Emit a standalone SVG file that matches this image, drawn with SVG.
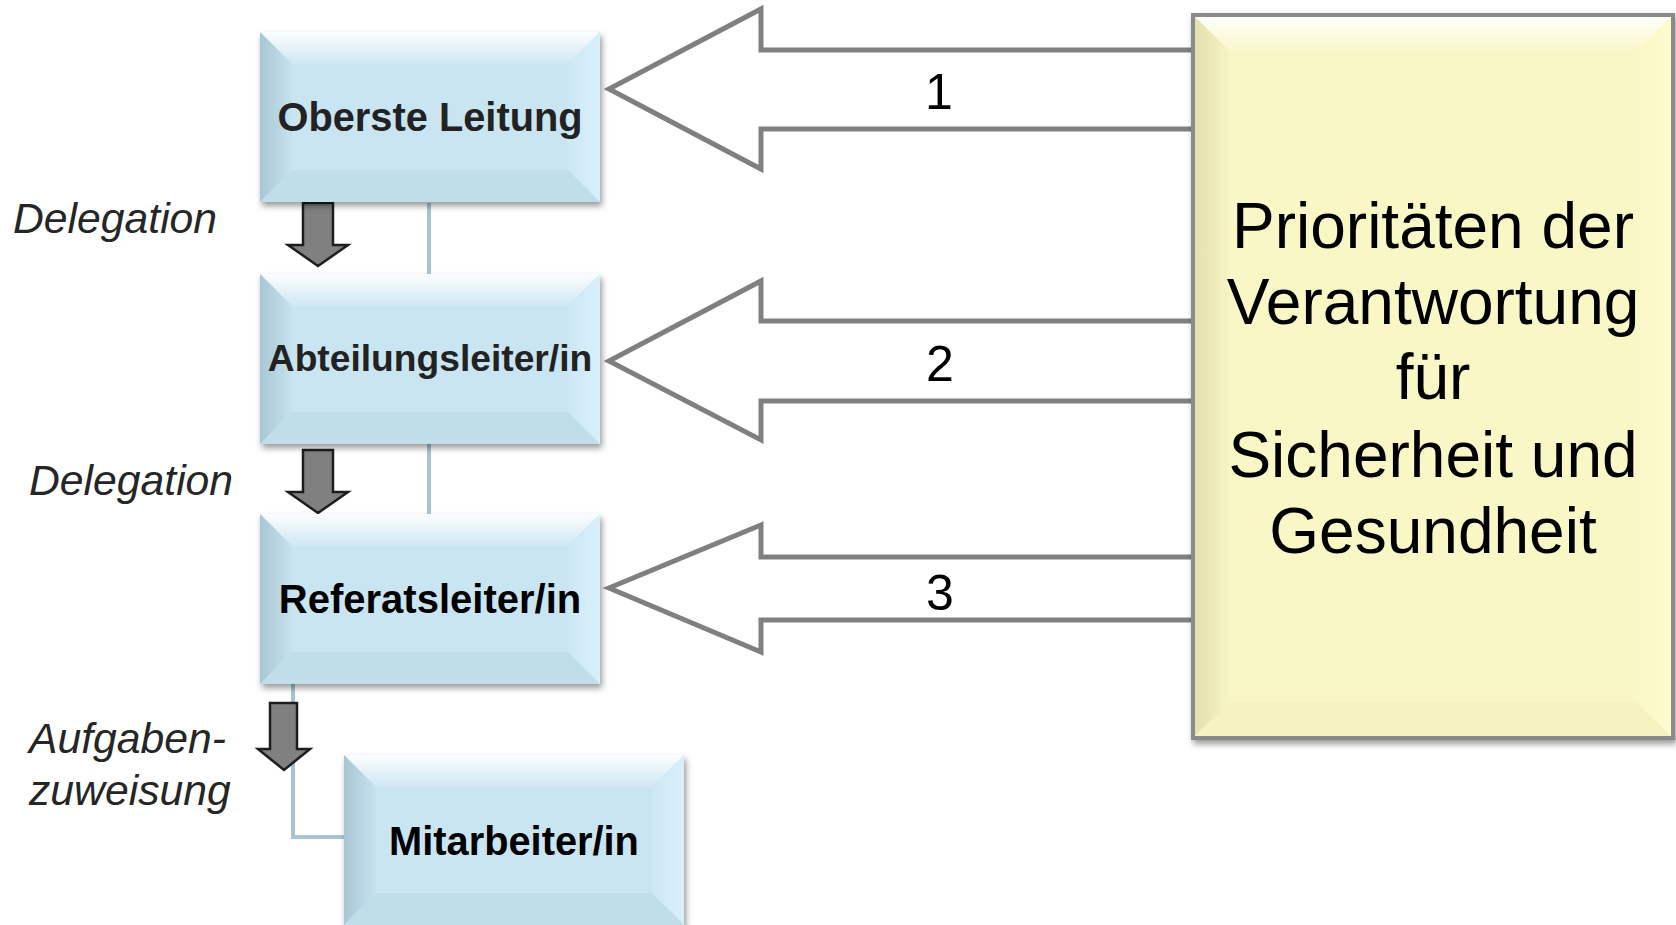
<svg xmlns="http://www.w3.org/2000/svg" width="1676" height="925" viewBox="0 0 1676 925">
<defs>
  <style>
    .base{fill:#c9e5f2;}
    .lbl{font-family:"Liberation Sans",Arial,sans-serif;font-weight:bold;text-anchor:middle;fill:#222;}
    .ital{font-family:"Liberation Sans",Arial,sans-serif;font-style:italic;font-size:42.7px;fill:#262626;}
    .num{font-family:"Liberation Sans",Arial,sans-serif;font-size:50px;text-anchor:middle;fill:#000;}
    .big{fill:#fff;stroke:#808080;stroke-width:5;stroke-linejoin:miter;}
    .down{fill:#808080;stroke:#1e1e1e;stroke-width:2.5;stroke-linejoin:miter;}
    .conn{fill:none;stroke:#a8c4d4;stroke-width:4;}
    .ytxt{font-family:"Liberation Sans",Arial,sans-serif;font-size:64px;text-anchor:middle;fill:#000;}
  </style>
  <filter id="sh" x="-10%" y="-10%" width="125%" height="125%">
    <feDropShadow dx="2" dy="4" stdDeviation="3" flood-color="#000" flood-opacity="0.4"/>
  </filter>
  <linearGradient id="bTop" x1="0" y1="0" x2="0" y2="1">
    <stop offset="0" stop-color="#ffffff" stop-opacity="0.95"/>
    <stop offset="1" stop-color="#ffffff" stop-opacity="0.1"/>
  </linearGradient>
  <linearGradient id="bLeft" x1="0" y1="0" x2="1" y2="0">
    <stop offset="0" stop-color="#a8c6d4"/>
    <stop offset="1" stop-color="#c6e2ee"/>
  </linearGradient>
  <linearGradient id="bRight" x1="0" y1="0" x2="1" y2="0">
    <stop offset="0" stop-color="#cce8f4"/>
    <stop offset="1" stop-color="#d9f0fa"/>
  </linearGradient>
  <linearGradient id="yTop" x1="0" y1="0" x2="0" y2="1">
    <stop offset="0" stop-color="#ffffff" stop-opacity="0.95"/>
    <stop offset="1" stop-color="#ffffff" stop-opacity="0.1"/>
  </linearGradient>
  <linearGradient id="yLeft" x1="0" y1="0" x2="1" y2="0">
    <stop offset="0" stop-color="#e4e0ae"/>
    <stop offset="1" stop-color="#f7f5c6"/>
  </linearGradient>
  <linearGradient id="yRight" x1="0" y1="0" x2="1" y2="0">
    <stop offset="0" stop-color="#f9f7c7"/>
    <stop offset="1" stop-color="#fefccf"/>
  </linearGradient>
  <g id="bbox">
    <rect width="340" height="170" class="base"/>
    <polygon points="0,0 340,0 308,32 32,32" fill="url(#bTop)"/>
    <polygon points="0,0 32,32 32,138 0,170" fill="url(#bLeft)"/>
    <polygon points="340,0 340,170 308,138 308,32" fill="url(#bRight)"/>
    <polygon points="0,170 32,138 308,138 340,170" fill="#c0ddea"/>
  </g>
</defs>
<rect width="1676" height="925" fill="#fff"/>

<g id="connectors">
  <path class="conn" d="M429,203 V274 M429,444 V514 M293,684 V837 H344"/>
  <path class="down" d="M303,203 H333 V245 H348 L318,266 L288,245 H303 Z"/>
  <path class="down" d="M303,450 H333 V492 H348 L318,513 L288,492 H303 Z"/>
  <path class="down" d="M270,703 H297 V749 H310 L284,770 L258,749 H270 Z"/>
  <path class="big" d="M1200,50 H761 V9 L609,89 L761,169 V129 H1200"/>
  <path class="big" d="M1200,321 H761 V281 L609,361 L761,440 V401 H1200"/>
  <path class="big" d="M1200,557 H761 V525 L609,588 L761,652 V620 H1200"/>
  <text class="num" x="939" y="109">1</text>
  <text class="num" x="940" y="381">2</text>
  <text class="num" x="940" y="610">3</text>
</g>

<g id="labels">
  <text class="ital" x="13" y="233">Delegation</text>
  <text class="ital" x="29" y="495">Delegation</text>
  <text class="ital" x="29" y="753">Aufgaben-</text>
  <text class="ital" x="29" y="805">zuweisung</text>
</g>

<g id="n1" transform="translate(260,32)">
  <use href="#bbox" filter="url(#sh)"/>
  <text class="lbl" x="170" y="99" font-size="39.8" fill="#262626">Oberste Leitung</text>
</g>
<g id="n2" transform="translate(260,274)">
  <use href="#bbox" filter="url(#sh)"/>
  <text class="lbl" x="170" y="97" font-size="37.2">Abteilungsleiter/in</text>
</g>
<g id="n3" transform="translate(260,514)">
  <use href="#bbox" filter="url(#sh)"/>
  <text class="lbl" x="170" y="99" font-size="40" style="fill:#000">Referatsleiter/in</text>
</g>
<g id="n4" transform="translate(344,755)">
  <use href="#bbox" filter="url(#sh)"/>
  <text class="lbl" x="170" y="100" font-size="39.8" style="fill:#000">Mitarbeiter/in</text>
</g>

<g id="n5" transform="translate(1193,15)">
  <g filter="url(#sh)">
    <rect width="480" height="723" fill="#f9f7c6" stroke="#8a8a8a" stroke-width="4"/>
  </g>
  <polygon points="2,2 478,2 443,36 37,36" fill="url(#yTop)"/>
  <polygon points="2,2 37,36 37,687 2,721" fill="url(#yLeft)"/>
  <polygon points="478,2 478,721 443,687 443,36" fill="url(#yRight)"/>
  <polygon points="2,721 37,687 443,687 478,721" fill="#f6f3c0"/>
  <rect width="480" height="723" fill="none" stroke="#8a8a8a" stroke-width="4"/>
  <text class="ytxt" x="240" y="233">Prioritäten der</text>
  <text class="ytxt" x="240" y="309">Verantwortung</text>
  <text class="ytxt" x="240" y="384">für</text>
  <text class="ytxt" x="240" y="462">Sicherheit und</text>
  <text class="ytxt" x="240" y="538">Gesundheit</text>
</g>
</svg>
